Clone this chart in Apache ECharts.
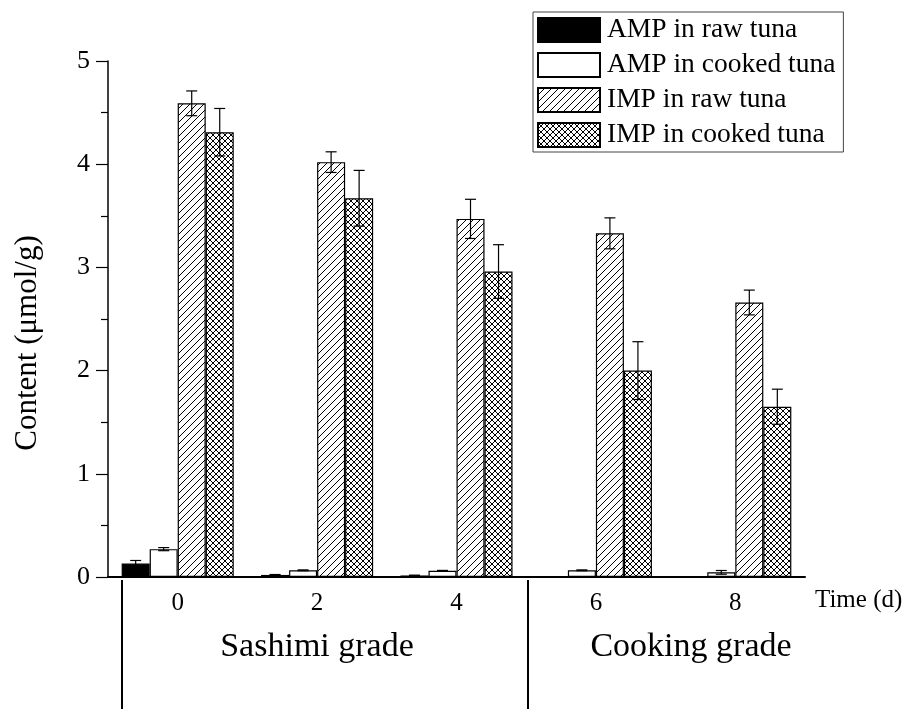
<!DOCTYPE html>
<html>
<head>
<meta charset="utf-8">
<script src="https://cdn.jsdelivr.net/npm/echarts@6/dist/echarts.min.js"></script>
<style>
html,body{margin:0;padding:0;background:#fff;}
#chart{width:909px;height:709px;}
</style>
</head>
<body>
<div id="chart"></div>
<script>
// ---- data ----
var categories = ['0', '2', '4', '6', '8'];
var seriesNames = ['AMP in raw tuna', 'AMP in cooked tuna', 'IMP in raw tuna', 'IMP in cooked tuna'];
var ampRaw = [0.13, 0.02, 0.015, 0, 0];
var ampRawErr = [0.03, 0.004, 0.003, 0, 0];
var ampCooked = [0.27, 0.065, 0.06, 0.065, 0.045];
var ampCookedErr = [0.015, 0.004, 0.004, 0.004, 0.018];
var impRaw = [4.59, 4.02, 3.47, 3.33, 2.66];
var impRawErr = [0.12, 0.10, 0.19, 0.15, 0.12];
var impCooked = [4.31, 3.67, 2.96, 2.00, 1.65];
var impCookedErr = [0.23, 0.27, 0.26, 0.28, 0.17];
var yTicks = [0, 1, 2, 3, 4, 5];

var FONT = '"Liberation Serif", "Times New Roman", serif';

function makeTile(kind) {
  var s = kind === 'hatch' ? 7 : 6;
  var c = document.createElement('canvas');
  c.width = s; c.height = s;
  var g = c.getContext('2d');
  g.fillStyle = '#fff'; g.fillRect(0, 0, s, s);
  g.strokeStyle = '#000'; g.lineWidth = 1;
  g.beginPath();
  g.moveTo(-1, s + 1); g.lineTo(s + 1, -1);
  g.moveTo(-1, 1); g.lineTo(1, -1);
  g.moveTo(s - 1, s + 1); g.lineTo(s + 1, s - 1);
  if (kind === 'cross') {
    g.moveTo(-1, -1); g.lineTo(s + 1, s + 1);
    g.moveTo(-1, s - 1); g.lineTo(1, s + 1);
    g.moveTo(s - 1, -1); g.lineTo(s + 1, 1);
  }
  g.stroke();
  return c;
}

var fills = ['#000', '#fff', {image: makeTile('hatch'), repeat: 'repeat'}, {image: makeTile('cross'), repeat: 'repeat'}];
var values = [ampRaw, ampCooked, impRaw, impCooked];
var errors = [ampRawErr, ampCookedErr, impRawErr, impCookedErr];
var GAP = 0.196;

var series = [];
for (var i = 0; i < 4; i++) {
  series.push({
    name: seriesNames[i], type: 'bar', data: values[i],
    barGap: '0%', barCategoryGap: (GAP * 100) + '%',
    itemStyle: {color: fills[i], borderColor: '#000', borderWidth: 1.2},
    emphasis: {disabled: true}
  });
}
for (var k = 0; k < 4; k++) {
  (function (idx) {
    var d = [];
    for (var j = 0; j < categories.length; j++) d.push([j, values[idx][j], errors[idx][j]]);
    series.push({
      type: 'custom', name: 'err' + idx, data: d, z: 10, silent: true,
      renderItem: function (params, api) {
        var ci = api.value(0), v = api.value(1), e = api.value(2);
        if (!e) return null;
        var band = api.size([1, 0])[0];
        var bw = band * (1 - GAP) / 4;
        var cx = api.coord([ci, 0])[0] + (idx - 1.5) * bw;
        var top = api.coord([ci, v + e])[1];
        var bot = api.coord([ci, Math.max(v - e, 0)])[1];
        var hw = 5.5;
        var st = {stroke: '#000', lineWidth: 1.2};
        return {type: 'group', children: [
          {type: 'line', shape: {x1: cx, y1: top, x2: cx, y2: bot}, style: st},
          {type: 'line', shape: {x1: cx - hw, y1: top, x2: cx + hw, y2: top}, style: st},
          {type: 'line', shape: {x1: cx - hw, y1: bot, x2: cx + hw, y2: bot}, style: st}
        ]};
      }
    });
  })(k);
}

var chart = echarts.init(document.getElementById('chart'), null, {renderer: 'canvas'});
chart.setOption({
  backgroundColor: '#fff',
  animation: false,
  grid: {left: 108, right: 104, top: 61, bottom: 132, containLabel: false, outerBoundsMode: 'none'},
  legend: {
    data: seriesNames, orient: 'vertical', left: 533, top: 12,
    itemWidth: 62, itemHeight: 24, itemGap: 7,
    padding: [4, 8, 3, 4], borderColor: '#444', borderWidth: 1,
    icon: 'rect', selectedMode: false,
    textStyle: {fontFamily: FONT, fontSize: 27.5, color: '#000', padding: [0, 0, 0, 2]}
  },
  xAxis: {
    type: 'category', data: categories,
    axisLine: {lineStyle: {color: '#000', width: 2}},
    axisTick: {show: false},
    axisLabel: {fontFamily: FONT, fontSize: 25, color: '#000', margin: 14}
  },
  yAxis: {
    type: 'value', min: yTicks[0], max: yTicks[yTicks.length - 1], interval: 1,
    axisLine: {show: true, lineStyle: {color: '#000', width: 1.5}},
    axisTick: {show: true, inside: false, length: 12, lineStyle: {color: '#000', width: 1.2}},
    minorTick: {show: true, splitNumber: 2, length: 7, lineStyle: {color: '#000', width: 1.2}},
    splitLine: {show: false},
    axisLabel: {fontFamily: FONT, fontSize: 26, color: '#000', margin: 18}
  },
  graphic: [
    {type: 'text', x: 28, y: 343, rotation: Math.PI / 2, style: {text: 'Content (μmol/g)', font: '31px ' + FONT, fill: '#000', align: 'center', verticalAlign: 'middle'}},
    {type: 'line', shape: {x1: 122, y1: 580, x2: 122, y2: 709}, style: {stroke: '#000', lineWidth: 2}},
    {type: 'line', shape: {x1: 528, y1: 580, x2: 528, y2: 709}, style: {stroke: '#000', lineWidth: 2}},
    {type: 'text', x: 815, y: 600, style: {text: 'Time (d)', font: '25px ' + FONT, fill: '#000', verticalAlign: 'middle'}},
    {type: 'text', x: 317, y: 647, style: {text: 'Sashimi grade', font: '34px ' + FONT, fill: '#000', align: 'center', verticalAlign: 'middle'}},
    {type: 'text', x: 691, y: 647, style: {text: 'Cooking grade', font: '34px ' + FONT, fill: '#000', align: 'center', verticalAlign: 'middle'}}
  ],
  series: series
});
</script>
</body>
</html>
